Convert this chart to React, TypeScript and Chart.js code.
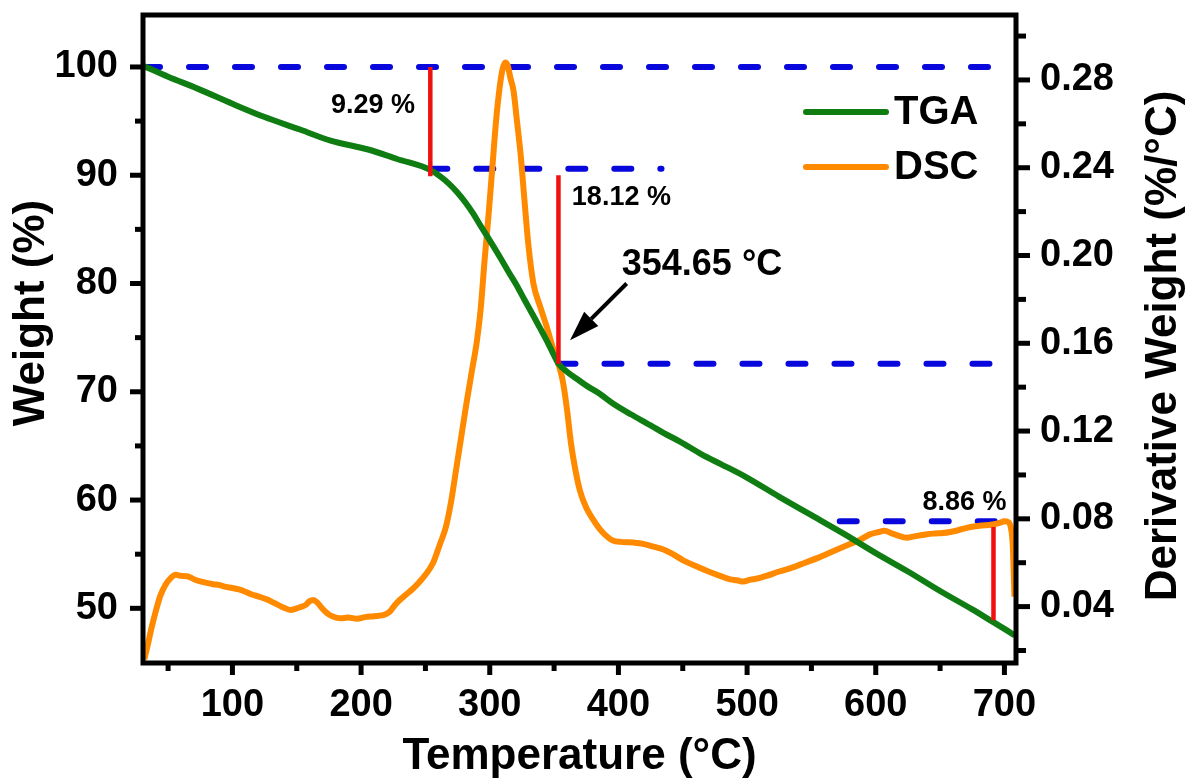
import React, { useEffect, useRef } from 'react';
import { Chart, registerables } from 'chart.js';

Chart.register(...registerables);

// ---- TGA curve (weight %, left axis)
const tgaTemp = [31, 50, 72.9, 100, 124.5, 153, 176.3, 204.7, 228, 253.8, 262, 268, 274.5, 281, 287.4, 292, 297.8, 303, 308.1, 315, 321.1, 327, 334, 339, 344.4, 349, 353.4, 360, 367.6, 376, 385.7, 396, 410, 425, 435, 447.8, 465, 480, 499.5, 525, 550, 575, 600, 625, 650, 675, 691, 700, 708];
const tgaWeight = [100.1, 99.1, 98.0, 96.6, 95.4, 94.2, 93.2, 92.4, 91.5, 90.5, 89.85, 89.25, 88.45, 87.5, 86.4, 85.5, 84.4, 83.4, 82.4, 81.0, 79.8, 78.5, 77.0, 75.9, 74.7, 73.6, 72.6, 71.85, 71.2, 70.5, 69.8, 68.9, 67.9, 66.9, 66.2, 65.4, 64.2, 63.3, 62.1, 60.3, 58.6, 56.9, 55.1, 53.4, 51.6, 49.9, 48.75, 48.1, 47.5];

// ---- DSC / derivative curve (right axis)
const dscTemp = [31.5, 34, 37, 40, 44, 48, 52, 56, 60, 65, 70, 75, 80, 85, 90, 95, 100, 105, 110, 115, 120, 127, 133, 140, 145, 150, 153, 157, 160, 163, 166, 170, 174, 178, 184, 190, 197, 203, 210, 217, 222, 226, 230, 235, 240, 245, 250, 256, 261, 266, 270, 274, 278, 282, 286, 290, 293, 296, 299, 302, 305, 308, 310, 312, 314, 316, 318.5, 321, 324, 327, 330, 334, 339, 344, 349, 354.7, 357, 360, 363, 366, 370, 375, 380, 386, 392, 396, 402, 408, 414, 420, 428, 435, 442, 450, 460, 470, 480, 487, 492, 497, 502, 508, 515, 525, 535, 545, 555, 562, 570, 580, 588, 595, 601, 607, 612, 618, 624, 630, 636, 640, 646, 652, 658, 664, 670, 676, 682, 688, 692, 697, 700, 703, 705, 706.5, 707.2, 707.8];
const dscDeriv = [0.016, 0.022, 0.030, 0.037, 0.045, 0.050, 0.053, 0.0545, 0.0540, 0.0538, 0.0525, 0.0515, 0.0508, 0.0502, 0.0498, 0.0490, 0.0485, 0.0478, 0.0468, 0.0455, 0.0447, 0.0432, 0.0415, 0.0395, 0.0385, 0.0392, 0.0398, 0.0408, 0.0425, 0.0430, 0.0418, 0.0390, 0.0368, 0.0355, 0.0347, 0.0350, 0.0345, 0.0352, 0.0356, 0.0361, 0.0375, 0.0405, 0.0430, 0.0455, 0.0480, 0.0510, 0.0545, 0.0600, 0.0680, 0.0765, 0.0880, 0.1030, 0.1180, 0.1330, 0.1470, 0.1610, 0.1760, 0.1980, 0.2180, 0.2400, 0.2620, 0.2780, 0.2850, 0.2880, 0.2865, 0.2810, 0.2750, 0.2620, 0.2460, 0.2250, 0.2050, 0.1870, 0.1770, 0.1680, 0.1580, 0.1480, 0.1420, 0.1300, 0.1150, 0.1040, 0.0930, 0.0850, 0.0800, 0.0750, 0.0715, 0.0700, 0.0695, 0.0693, 0.0690, 0.0685, 0.0672, 0.0660, 0.0640, 0.0612, 0.0585, 0.0560, 0.0538, 0.0524, 0.0520, 0.0514, 0.0522, 0.0528, 0.0540, 0.0560, 0.0578, 0.0600, 0.0622, 0.0640, 0.0660, 0.0685, 0.0705, 0.0728, 0.0738, 0.0746, 0.0735, 0.0722, 0.0714, 0.0720, 0.0726, 0.0730, 0.0733, 0.0735, 0.0740, 0.0748, 0.0758, 0.0765, 0.0770, 0.0772, 0.0775, 0.0783, 0.0789, 0.0785, 0.0760, 0.0680, 0.0560, 0.0445];

// ---- axes
const tempRange = [30.5, 709];
const weightRange = [44.95, 104.8];
const derivRange = [0.0143, 0.3096];
const tempTicks = [100, 200, 300, 400, 500, 600, 700];
const tempMinor = [50, 150, 250, 350, 450, 550, 650];
const weightTicks = [50, 60, 70, 80, 90, 100];
const weightMinor = [55, 65, 75, 85, 95];
const derivTicks = [0.04, 0.08, 0.12, 0.16, 0.2, 0.24, 0.28];
const derivMinor = [0.02, 0.06, 0.1, 0.14, 0.18, 0.22, 0.26, 0.3];

// ---- step annotations (weight levels and drops)
const dashStart = [30.5, 253.8, 353.4, 572];
const dashEnd = [709, 433.5, 709, 697.5];
const dashWeight = [100, 90.6, 72.6, 58.05];
const dropTemp = [253.8, 353.4, 691.5];
const dropTop = [100, 90.0, 57.5];
const dropBottom = [89.9, 72.6, 48.9];
const dropLabels = ['9.29 %', '18.12 %', '8.86 %'];
const peakLabel = '354.65 °C';

const FONT = '"Liberation Sans", Arial, sans-serif';
const GREEN = '#0f7d12';
const ORANGE = '#ff8a00';
const BLUE = '#0808dc';
const RED = '#f01010';

const overlayPlugin = {
  id: 'overlay',
  afterDraw(chart: any) {
    const { ctx, chartArea: a, scales } = chart;
    const x = scales.x, y = scales.y, y1 = scales.y1;
    const px = (v: number) => x.getPixelForValue(v);
    const py = (v: number) => y.getPixelForValue(v);
    ctx.save();
    // frame
    ctx.strokeStyle = '#000';
    ctx.lineWidth = 5;
    ctx.strokeRect(a.left, a.top, a.right - a.left, a.bottom - a.top);
    const line = (x0: number, y0: number, x1: number, y1p: number) => {
      ctx.beginPath(); ctx.moveTo(x0, y0); ctx.lineTo(x1, y1p); ctx.stroke();
    };
    weightTicks.forEach(v => line(a.left, py(v), a.left - 13, py(v)));
    weightMinor.forEach(v => line(a.left, py(v), a.left - 8, py(v)));
    derivTicks.forEach(v => { const p = y1.getPixelForValue(v); line(a.right, p, a.right + 14, p); });
    derivMinor.forEach(v => { const p = y1.getPixelForValue(v); if (p > a.top + 2 && p < a.bottom - 2) line(a.right, p, a.right + 10, p); });
    tempTicks.forEach(v => line(px(v), a.bottom, px(v), a.bottom + 12));
    tempMinor.forEach(v => line(px(v), a.bottom, px(v), a.bottom + 8));

    // axis titles
    ctx.fillStyle = '#000';
    ctx.font = `bold 44px ${FONT}`;
    ctx.textAlign = 'center';
    ctx.textBaseline = 'middle';
    ctx.fillText('Temperature (°C)', (a.left + a.right) / 2, 757);
    ctx.save(); ctx.translate(32, 313); ctx.rotate(-Math.PI / 2); ctx.fillText('Weight (%)', 0, 0); ctx.restore();
    ctx.save(); ctx.translate(1164, 346); ctx.rotate(-Math.PI / 2); ctx.fillText('Derivative Weight (%/°C)', 0, 0); ctx.restore();

    // legend
    const legend = [['TGA', GREEN, 112], ['DSC', ORANGE, 167]] as const;
    legend.forEach(([label, color, ly]) => {
      ctx.strokeStyle = color; ctx.lineWidth = 6; ctx.lineCap = 'round';
      line(806, ly, 886, ly);
      ctx.fillStyle = '#000';
      ctx.font = `bold 40px ${FONT}`;
      ctx.textAlign = 'left';
      ctx.fillText(label, 894, ly + 1);
    });

    // annotation texts
    ctx.fillStyle = '#000';
    ctx.font = `bold 27px ${FONT}`;
    ctx.textAlign = 'center';
    ctx.fillText(dropLabels[0], px(209.2), py(96.46));
    ctx.textAlign = 'left';
    ctx.fillText(dropLabels[1], px(363.8), py(87.9));
    ctx.textAlign = 'center';
    ctx.fillText(dropLabels[2], px(668.9), py(59.8));
    ctx.font = `bold 36px ${FONT}`;
    ctx.textAlign = 'left';
    ctx.fillText(peakLabel, px(402.6), py(81.7));

    // arrow
    const ax0 = px(406.4), ay0 = py(80.0), ax1 = px(362.4), ay1 = py(74.77);
    const ang = Math.atan2(ay1 - ay0, ax1 - ax0);
    const hl = 30, hw = 10;
    const bx = ax1 - hl * Math.cos(ang), by = ay1 - hl * Math.sin(ang);
    ctx.strokeStyle = '#000'; ctx.lineWidth = 4; ctx.lineCap = 'butt';
    line(ax0, ay0, bx, by);
    ctx.beginPath();
    ctx.moveTo(ax1, ay1);
    ctx.lineTo(bx + hw * Math.sin(ang), by - hw * Math.cos(ang));
    ctx.lineTo(bx - hw * Math.sin(ang), by + hw * Math.cos(ang));
    ctx.closePath();
    ctx.fillStyle = '#000';
    ctx.fill();
    ctx.restore();
  },
};

export default function App() {
  const ref = useRef<HTMLCanvasElement | null>(null);
  useEffect(() => {
    if (!ref.current) return;
    const dashSets = dashWeight.map((w, i) => ({
      data: [{ x: dashStart[i], y: w }, { x: dashEnd[i], y: w }],
      borderColor: BLUE, borderWidth: 6, borderDash: [17, 29], borderCapStyle: 'round',
      pointRadius: 0, yAxisID: 'y', order: 3,
    }));
    const dropSets = dropTemp.map((t, i) => ({
      data: [{ x: t, y: dropTop[i] }, { x: t, y: dropBottom[i] }],
      borderColor: RED, borderWidth: 4.5, pointRadius: 0, yAxisID: 'y', order: 0,
    }));
    const tickFont = { family: FONT, size: 38, weight: 'bold' as const, lineHeight: 1.2 };
    const chart = new Chart(ref.current, {
      type: 'line',
      data: {
        datasets: [
          ...dashSets,
          {
            label: 'DSC',
            data: dscTemp.map((t, i) => ({ x: t, y: dscDeriv[i] })),
            borderColor: ORANGE, borderWidth: 6, pointRadius: 0, yAxisID: 'y1',
            borderJoinStyle: 'round', cubicInterpolationMode: 'monotone', order: 2,
          },
          {
            label: 'TGA',
            data: tgaTemp.map((t, i) => ({ x: t, y: tgaWeight[i] })),
            borderColor: GREEN, borderWidth: 6, pointRadius: 0, yAxisID: 'y',
            borderJoinStyle: 'round', cubicInterpolationMode: 'monotone', order: 1,
          },
          ...dropSets,
        ] as any,
      },
      options: {
        responsive: false,
        animation: false,
        devicePixelRatio: 1,
        layout: { padding: { top: 15, left: 0, right: 0, bottom: 0 } },
        plugins: { legend: { display: false }, tooltip: { enabled: false } },
        scales: {
          x: {
            type: 'linear', position: 'bottom', min: tempRange[0], max: tempRange[1],
            grid: { display: false, drawTicks: false }, border: { display: false },
            ticks: { font: tickFont, color: '#000', padding: 20, maxRotation: 0 },
            afterBuildTicks: (s: any) => { s.ticks = tempTicks.map(v => ({ value: v })); },
            afterFit: (s: any) => { s.height = 119; s.paddingLeft = 0; s.paddingRight = 0; },
          },
          y: {
            type: 'linear', position: 'left', min: weightRange[0], max: weightRange[1],
            grid: { display: false, drawTicks: false }, border: { display: false },
            ticks: { font: tickFont, color: '#000', padding: 25 },
            afterBuildTicks: (s: any) => { s.ticks = weightTicks.map(v => ({ value: v })); },
            afterFit: (s: any) => { s.width = 143; s.paddingTop = 0; s.paddingBottom = 0; },
          },
          y1: {
            type: 'linear', position: 'right', min: derivRange[0], max: derivRange[1],
            grid: { display: false, drawTicks: false }, border: { display: false },
            ticks: { font: tickFont, color: '#000', padding: 24, callback: (v: any) => Number(v).toFixed(2) },
            afterBuildTicks: (s: any) => { s.ticks = derivTicks.map(v => ({ value: v })); },
            afterFit: (s: any) => { s.width = 174; s.paddingTop = 0; s.paddingBottom = 0; },
          },
        },
      } as any,
      plugins: [overlayPlugin],
    });
    return () => chart.destroy();
  }, []);
  return (
    <div style={{ position: 'fixed', left: 0, top: 0, width: 1190, height: 782, background: '#fff' }}>
      <canvas ref={ref} width={1190} height={782} style={{ display: 'block' }} />
    </div>
  );
}
